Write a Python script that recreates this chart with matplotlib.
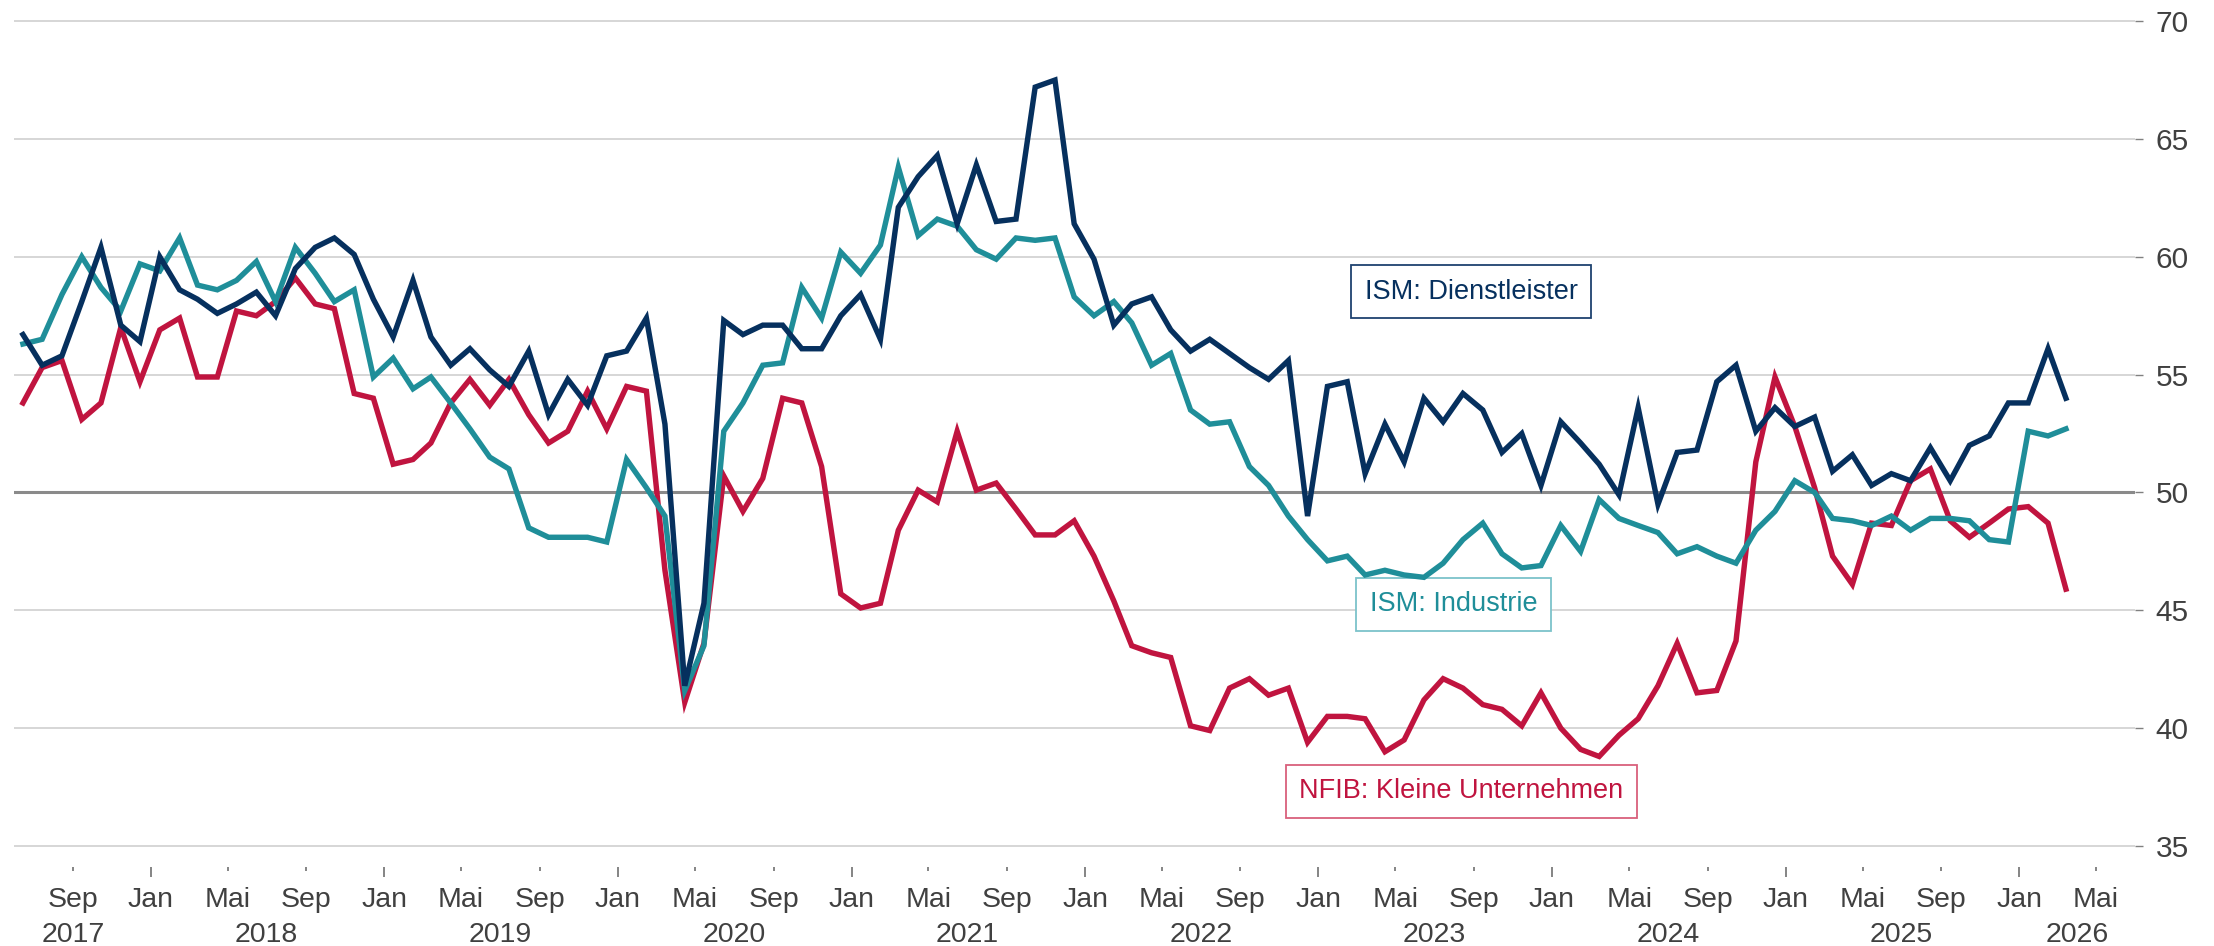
import matplotlib
matplotlib.use("Agg")
import matplotlib.pyplot as plt
import matplotlib.dates as mdates
import matplotlib.transforms as mtransforms
from matplotlib.ticker import FuncFormatter
import pandas as pd

plt.rcParams['font.family'] = ['Liberation Sans', 'DejaVu Sans']

# --- Data (monthly, Jun 2017 - Mar 2026) ---
MONTHS = pd.date_range("2017-06-01", "2026-03-01", freq="MS") + pd.Timedelta(days=14)

ISM_SERVICES = [
    56.7, 55.4, 55.8, 58.1, 60.4, 57.1, 56.4,
    60.0, 58.6, 58.2, 57.6, 58.0, 58.5, 57.5, 59.5, 60.4, 60.8, 60.1, 58.2,
    56.6, 59.0, 56.6, 55.4, 56.1, 55.2, 54.5, 56.0, 53.3, 54.8, 53.7, 55.8,
    56.0, 57.4, 52.9, 41.8, 45.3, 57.3, 56.7, 57.1, 57.1, 56.1, 56.1, 57.5,
    58.4, 56.5, 62.1, 63.4, 64.3, 61.4, 63.9, 61.5, 61.6, 67.2, 67.5, 61.4,
    59.9, 57.1, 58.0, 58.3, 56.9, 56.0, 56.5, 55.9, 55.3, 54.8, 55.6, 49.0,
    54.5, 54.7, 50.8, 52.9, 51.3, 54.0, 53.0, 54.2, 53.5, 51.7, 52.5, 50.3,
    53.0, 52.1, 51.2, 49.9, 53.6, 49.5, 51.7, 51.8, 54.7, 55.4, 52.6, 53.6,
    52.8, 53.2, 50.9, 51.6, 50.3, 50.8, 50.5, 51.9, 50.5, 52.0, 52.4, 53.8,
    53.8, 56.1, 54.0,
]

ISM_MANUF = [
    56.3, 56.5, 58.4, 60.0, 58.7, 57.7, 59.7,
    59.4, 60.8, 58.8, 58.6, 59.0, 59.8, 58.1, 60.4, 59.3, 58.1, 58.6, 54.9,
    55.7, 54.4, 54.9, 53.8, 52.7, 51.5, 51.0, 48.5, 48.1, 48.1, 48.1, 47.9,
    51.4, 50.2, 49.0, 41.6, 43.5, 52.6, 53.8, 55.4, 55.5, 58.7, 57.4, 60.2,
    59.3, 60.5, 63.8, 60.9, 61.6, 61.3, 60.3, 59.9, 60.8, 60.7, 60.8, 58.3,
    57.5, 58.1, 57.2, 55.4, 55.9, 53.5, 52.9, 53.0, 51.1, 50.3, 49.0, 48.0,
    47.1, 47.3, 46.5, 46.7, 46.5, 46.4, 47.0, 48.0, 48.7, 47.4, 46.8, 46.9,
    48.6, 47.5, 49.7, 48.9, 48.6, 48.3, 47.4, 47.7, 47.3, 47.0, 48.4, 49.2,
    50.5, 50.0, 48.9, 48.8, 48.6, 49.0, 48.4, 48.9, 48.9, 48.8, 48.0, 47.9,
    52.6, 52.4, 52.7,
]

NFIB_SMALL = [
    53.8, 55.3, 55.6, 53.1, 53.8, 57.0, 54.7,
    56.9, 57.4, 54.9, 54.9, 57.7, 57.5, 58.1, 59.1, 58.0, 57.8, 54.2, 54.0,
    51.2, 51.4, 52.1, 53.8, 54.8, 53.7, 54.8, 53.3, 52.1, 52.6, 54.3, 52.7,
    54.5, 54.3, 46.7, 41.1, 43.6, 50.7, 49.2, 50.6, 54.0, 53.8, 51.1, 45.7,
    45.1, 45.3, 48.4, 50.1, 49.6, 52.6, 50.1, 50.4, 49.3, 48.2, 48.2, 48.8,
    47.3, 45.4, 43.5, 43.2, 43.0, 40.1, 39.9, 41.7, 42.1, 41.4, 41.7, 39.4,
    40.5, 40.5, 40.4, 39.0, 39.5, 41.2, 42.1, 41.7, 41.0, 40.8, 40.1, 41.5,
    40.0, 39.1, 38.8, 39.7, 40.4, 41.8, 43.6, 41.5, 41.6, 43.7, 51.3, 54.9,
    52.8, 50.2, 47.3, 46.1, 48.7, 48.6, 50.5, 51.0, 48.8, 48.1, 48.7, 49.3,
    49.4, 48.7, 45.9,
]

SERIES_LABELS = ["ISM: Dienstleister", "ISM: Industrie", "NFIB: Kleine Unternehmen"]
Y_TICKS = [35, 40, 45, 50, 55, 60, 65, 70]
YEARS = [2017, 2018, 2019, 2020, 2021, 2022, 2023, 2024, 2025, 2026]
MONTH_NAMES = {1: "Jan", 5: "Mai", 9: "Sep"}

NAVY = "#06305E"
TEAL = "#1F8E99"
RED = "#C0143F"
TEXT_GREY = "#404040"

# --- Figure ---
fig = plt.figure(figsize=(22.14, 9.46), dpi=100)
ax = fig.add_axes([14 / 2214, 79 / 946, 2121 / 2214, 852 / 946])

x_min = pd.Timestamp("2017-06-01")
x_max = pd.Timestamp("2026-07-01")
ax.set_xlim(x_min, x_max)
ax.set_ylim(34.11, 70.26)

for v in Y_TICKS:
    ax.axhline(v, color="#d3d3d3", lw=1.3, zorder=1)
ax.axhline(50, color="#8a8a8a", lw=2.2, zorder=2)

ax.plot(MONTHS, ISM_SERVICES, color=NAVY, lw=3.9, zorder=5, solid_joinstyle="miter")
ax.plot(MONTHS, ISM_MANUF, color=TEAL, lw=3.9, zorder=4, solid_joinstyle="miter")
ax.plot(MONTHS, NFIB_SMALL, color=RED, lw=3.9, zorder=3, solid_joinstyle="miter")

for s in ax.spines.values():
    s.set_visible(False)

# y axis on the right
ax.yaxis.tick_right()
ax.set_yticks(Y_TICKS)
ax.tick_params(axis="y", length=6, width=1, color="#808080", pad=9,
               labelsize=21.5, labelcolor=TEXT_GREY)

# x axis: Jan as major, Mai/Sep as minor ticks, all labelled
ax.xaxis.set_major_locator(mdates.MonthLocator(bymonth=[1]))
ax.xaxis.set_minor_locator(mdates.MonthLocator(bymonth=[5, 9]))
fmt = FuncFormatter(lambda x, pos: MONTH_NAMES.get(mdates.num2date(x).month, ""))
ax.xaxis.set_major_formatter(fmt)
ax.xaxis.set_minor_formatter(fmt)
ax.tick_params(axis="x", which="major", length=7.2, width=1.2, color="#707070",
               pad=7, labelsize=20.5, labelcolor=TEXT_GREY)
ax.tick_params(axis="x", which="minor", length=2.9, width=1.2, color="#707070",
               pad=11.3, labelsize=20.5, labelcolor=TEXT_GREY)

# year labels below the month labels
trans = mtransforms.blended_transform_factory(ax.transData, ax.transAxes)
for yr in YEARS:
    if yr == 2017:
        xpos = pd.Timestamp("2017-09-01")
    elif yr == 2026:
        xpos = pd.Timestamp("2026-04-01")
    else:
        xpos = pd.Timestamp(f"{yr}-07-01")
    ax.text(mdates.date2num(xpos), -0.064, str(yr), transform=trans,
            ha="center", va="top", fontsize=20.5, color=TEXT_GREY)

# series labels in boxes
ax.text(0.687, 0.675, SERIES_LABELS[0], transform=ax.transAxes, ha="center", va="center",
        fontsize=19.5, color=NAVY,
        bbox=dict(boxstyle="square,pad=0.5", fc="white", ec="#1f426f", lw=1.3))
ax.text(0.6787, 0.3082, SERIES_LABELS[1], transform=ax.transAxes, ha="center", va="center",
        fontsize=19.5, color=TEAL,
        bbox=dict(boxstyle="square,pad=0.5", fc="white", ec="#7cc3ca", lw=1.3))
ax.text(0.6824, 0.0889, SERIES_LABELS[2], transform=ax.transAxes, ha="center", va="center",
        fontsize=19.5, color=RED,
        bbox=dict(boxstyle="square,pad=0.5", fc="white", ec="#d9607c", lw=1.3))

fig.savefig("out.png", dpi=100)
